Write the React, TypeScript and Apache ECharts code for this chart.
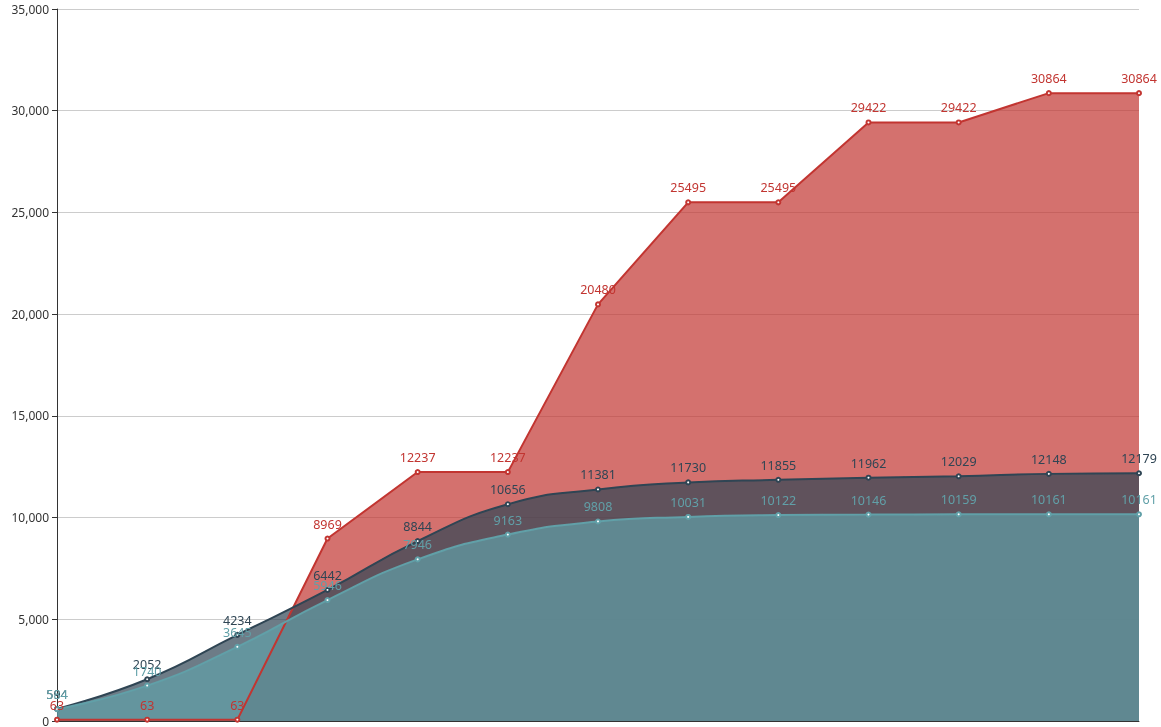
import React, { useEffect, useRef } from "react";
import * as echarts from "echarts";

const categories = ["1", "2", "3", "4", "5", "6", "7", "8", "9", "10", "11", "12", "13"];
const redValues = [63, 63, 63, 8969, 12237, 12237, 20480, 25495, 25495, 29422, 29422, 30864, 30864];
const darkValues = [594, 2052, 4234, 6442, 8844, 10656, 11381, 11730, 11855, 11962, 12029, 12148, 12179];
const tealValues = [584, 1740, 3645, 5946, 7946, 9163, 9808, 10031, 10122, 10146, 10159, 10161, 10161];
const seriesNames = ["A", "B", "C"];
const colors = ["#c23531", "#2f4554", "#61a0a8"];

export default function App() {
  const ref = useRef<HTMLDivElement>(null);
  useEffect(() => {
    if (!ref.current) return;
    const chart = echarts.init(ref.current, undefined, { renderer: "svg" });
    const mk = (name: string, data: number[], color: string, smooth: boolean) => ({
      name,
      type: "line",
      data,
      smooth,
      symbol: "emptyCircle",
      symbolSize: 4,
      itemStyle: { color },
      lineStyle: { color, width: 2 },
      areaStyle: { color, opacity: 0.7 },
      label: { show: true, position: "top", color, fontSize: 12.5 },
    });
    chart.setOption({
      animation: false,
      color: colors,
      textStyle: { fontFamily: "'Noto Sans', sans-serif" },
      grid: { left: 57, right: 22, top: 9, bottom: 2, containLabel: false },
      xAxis: {
        type: "category",
        data: categories,
        boundaryGap: false,
        axisLabel: { show: false },
        axisTick: { show: false },
        axisLine: { show: true, lineStyle: { color: "#333" } },
      },
      yAxis: {
        type: "value",
        min: 0,
        max: 35000,
        interval: 5000,
        axisLine: { show: true, lineStyle: { color: "#333" } },
        axisTick: { show: true, lineStyle: { color: "#333" } },
        axisLabel: { color: "#333", fontSize: 12 },
        splitLine: { lineStyle: { color: "#ccc" } },
      },
      series: [
        mk(seriesNames[0], redValues, colors[0], false),
        mk(seriesNames[1], darkValues, colors[1], true),
        mk(seriesNames[2], tealValues, colors[2], true),
      ],
    });
    return () => chart.dispose();
  }, []);
  return (
    <div
      ref={ref}
      style={{ position: "fixed", left: 0, top: 0, width: 1161, height: 727 }}
    />
  );
}
